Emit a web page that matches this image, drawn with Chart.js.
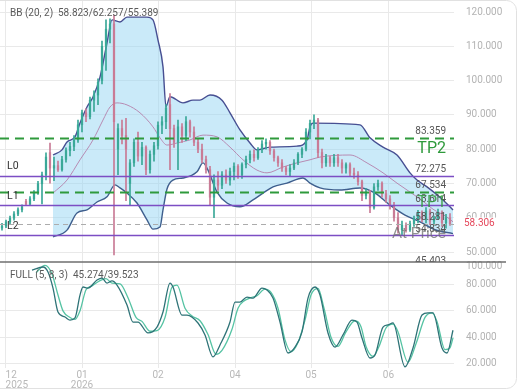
<!DOCTYPE html>
<html>
<head>
<meta charset="utf-8">
<script src="https://cdn.jsdelivr.net/npm/chart.js@4.4.1/dist/chart.umd.min.js"></script>
<style>
  html, body { margin: 0; padding: 0; background: #fff; }
</style>
</head>
<body>
<canvas id="chart" width="520" height="390"></canvas>
<script>
// candles, one per bar (bar i sits at x = i + 0.5)
const opens = [57.0, 57.6, 58.8, 59.9, 61.1, 62.3, 64.8, 64.0, 65.5, 67.2,
  69.9, 72.5, 79.0, 74.5, 75.2, 74.0, 77.0, 79.6, 80.8, 82.7,
  87.1, 90.6, 89.5, 94.3, 95.8, 100.0, 110.0, 115.0, 116.5, 80.0,
  86.0, 84.0, 70.0, 76.0, 82.0, 78.0, 80.5, 74.0, 78.5, 81.0,
  87.0, 88.0, 93.0, 86.0, 82.0, 86.5, 84.0, 88.0, 85.0, 82.0,
  80.0, 77.0, 74.0, 66.0, 71.0, 69.5, 72.5, 71.0, 73.5, 75.0,
  72.5, 75.5, 77.0, 78.5, 77.5, 79.8, 81.5, 82.0, 79.5, 77.5,
  76.0, 74.5, 73.5, 74.5, 76.0, 78.5, 80.0, 85.0, 87.5, 88.5,
  79.0, 76.0, 77.5, 76.0, 77.5, 76.0, 74.5, 75.5, 73.0, 72.5,
  70.5, 66.5, 67.5, 63.0, 69.0, 70.0, 67.0, 65.5, 63.5, 60.0,
  56.5, 57.8, 56.5, 58.2, 59.8, 61.5, 59.5, 62.0, 59.0, 60.0,
  61.5, 58.5, 60.0];
const highs = [58.4, 59.3, 60.5, 61.8, 62.9, 63.8, 65.4, 66.2, 67.9, 70.6,
  73.3, 78.9, 81.8, 77.7, 76.5, 77.9, 80.4, 82.0, 84.0, 88.5,
  91.4, 91.8, 95.2, 97.0, 100.5, 111.5, 117.7, 118.0, 119.1, 87.4,
  88.5, 89.0, 77.0, 83.0, 85.0, 82.0, 81.0, 79.5, 82.0, 88.0,
  89.5, 93.0, 96.2, 87.0, 88.5, 87.5, 89.5, 88.5, 86.5, 83.0,
  81.5, 78.0, 75.0, 72.5, 73.5, 73.5, 74.0, 74.5, 76.0, 75.5,
  76.0, 78.0, 79.5, 79.8, 80.5, 82.5, 83.0, 82.5, 80.0, 78.0,
  77.0, 75.0, 75.5, 77.0, 79.0, 80.5, 86.0, 88.5, 90.0, 89.0,
  80.0, 78.5, 78.0, 78.5, 78.5, 77.0, 76.0, 76.0, 74.5, 73.5,
  71.0, 68.5, 68.0, 70.0, 71.0, 70.5, 68.0, 66.5, 64.5, 61.5,
  59.0, 58.5, 59.0, 60.5, 62.2, 62.0, 63.0, 62.5, 60.5, 62.5,
  62.0, 61.0, 61.2];
const lows = [56.4, 57.1, 58.2, 59.3, 60.6, 61.7, 63.6, 63.6, 65.0, 66.8,
  64.0, 71.0, 70.1, 70.8, 73.5, 73.6, 76.2, 78.0, 79.6, 82.0,
  85.0, 88.0, 88.8, 91.0, 93.0, 99.0, 103.0, 111.0, 49.2, 72.6,
  81.5, 65.0, 63.8, 75.0, 76.5, 75.5, 72.6, 73.0, 76.5, 80.0,
  84.5, 86.0, 74.0, 80.5, 74.0, 82.0, 82.5, 83.5, 81.0, 79.0,
  76.0, 73.0, 63.8, 60.0, 68.0, 68.5, 70.0, 69.5, 71.0, 71.5,
  71.5, 74.5, 76.0, 76.5, 77.0, 79.0, 80.0, 78.5, 76.5, 75.0,
  73.5, 72.5, 72.0, 74.0, 75.5, 77.5, 79.5, 83.0, 86.0, 77.5,
  74.5, 75.0, 75.0, 75.0, 75.0, 73.0, 73.0, 72.0, 71.5, 69.5,
  65.0, 65.5, 61.5, 62.5, 68.0, 66.0, 64.5, 62.5, 59.0, 55.5,
  55.0, 55.8, 56.0, 57.5, 58.5, 58.8, 58.5, 58.0, 57.8, 59.5,
  57.5, 57.0, 57.8];
const closes = [57.6, 58.8, 59.9, 61.1, 62.3, 63.2, 64.0, 65.5, 67.2, 69.9,
  72.5, 77.7, 74.5, 75.2, 74.0, 77.0, 79.6, 80.8, 82.7, 87.1,
  90.6, 89.5, 94.3, 95.8, 99.5, 110.0, 115.0, 116.5, 88.0, 86.0,
  84.0, 80.0, 76.0, 82.0, 78.0, 80.5, 74.0, 78.5, 81.0, 87.0,
  88.0, 92.0, 86.0, 82.0, 86.5, 84.0, 88.0, 85.0, 82.0, 80.0,
  77.0, 74.0, 66.0, 71.0, 69.5, 72.5, 71.0, 73.5, 75.0, 72.5,
  75.5, 77.0, 78.5, 77.5, 79.8, 81.5, 82.0, 79.5, 77.5, 76.0,
  74.5, 73.5, 74.5, 76.0, 78.5, 80.0, 85.0, 87.5, 88.5, 79.0,
  76.0, 77.5, 76.0, 77.5, 76.0, 74.5, 75.5, 73.0, 72.5, 70.5,
  66.5, 67.5, 63.0, 69.0, 70.0, 67.0, 65.5, 63.5, 60.0, 56.5,
  57.8, 56.5, 58.2, 59.8, 61.5, 59.5, 62.0, 59.0, 60.0, 61.5,
  58.5, 60.0, 58.3];

// Bollinger band (20, 2) at bar positions
const bbUpperX = [13.25, 15.5, 16.75, 18.75, 20, 21.75, 23.25, 25, 26.75, 28,
  30, 31.75, 36.75, 38.25, 39.5, 40.75, 41.5, 42.5, 45.75, 48.25,
  50, 52.5, 55.5, 57.5, 60, 62.5, 64.25, 67.5, 74.25, 76.75,
  77.5, 78.25, 90, 92.5, 95.75, 99.25, 102.5, 104.25, 106.75, 110.75, 113.25];
const bbUpper = [78.3, 79.8, 82.1, 83.6, 87.6, 92.3, 95.2, 101.0, 111.0, 117.7,
  117.1, 118.5, 118.5, 117.7, 111.8, 104.0, 92.4, 95.3, 93.5, 94.3,
  94.3, 95.8, 94.3, 90.6, 85.6, 81.8, 79.8, 80.6, 80.9, 82.7,
  86.5, 87.6, 87.1, 83.3, 80.6, 78.3, 73.1, 71.0, 69.0, 65.2, 62.26];
const bbMiddleX = [13.25, 16.75, 20, 23.25, 25.75, 27.5, 29.25, 31.75, 35, 38.25,
  40, 41.75, 44.25, 47.5, 50.75, 54.25, 57.5, 60.75, 64.25, 66.75,
  70.75, 74.25, 77.5, 80, 87.5, 91.75, 95.75, 99.25, 102.5, 105.75,
  108.25, 111.75, 113.25];
const bbMiddle = [67.2, 71.0, 76.9, 82.7, 88.5, 92.3, 93.5, 92.9, 90.6, 86.5,
  83.3, 81.2, 81.8, 82.7, 84.1, 83.6, 80.6, 76.9, 73.9, 73.1,
  74.8, 76.0, 76.9, 77.7, 78.3, 76.0, 73.1, 70.1, 67.5, 64.8,
  62.5, 60.2, 58.82];
const bbLowerX = [13.25, 16.75, 19.25, 21.75, 24.25, 26.75, 28.75, 30, 31.75, 34.25,
  36.75, 38.25, 40, 40.75, 41.75, 43.25, 45.75, 49.25, 50.75, 52,
  54.25, 56.75, 60, 63.25, 65.75, 68.25, 71.75, 75.75, 77.5, 80,
  85, 90, 93.75, 97.5, 101.25, 105, 108.75, 113.25];
const bbLower = [54.4, 56.4, 61.4, 62.3, 64.6, 66.1, 69.6, 68.7, 67.2, 64.3,
  59.4, 56.7, 57.3, 62.3, 68.4, 71.0, 71.6, 73.4, 76.0, 73.9,
  67.5, 64.3, 63.2, 65.2, 67.2, 69.0, 70.1, 71.6, 70.1, 68.7,
  68.1, 68.7, 67.2, 63.7, 60.8, 58.8, 56.5, 55.39];

// stochastic FULL (5, 8, 3)
const stochKX = [8, 10.75, 12, 13.25, 14.5, 16.25, 17.5, 18.75, 20, 20.75,
  22, 24.25, 25.5, 26.75, 28, 29.25, 31.75, 33.25, 34.5, 37,
  39.25, 40.75, 42.5, 43.25, 45.5, 46.75, 49.5, 51.25, 53.25, 55,
  57.5, 58.75, 60, 61.75, 63.25, 65.5, 66.75, 68.25, 70, 72,
  73.75, 75.5, 77, 78.75, 80, 82, 83.75, 85.75, 88, 89.25,
  90.5, 92.5, 93.75, 95.75, 97, 98.25, 101.25, 103.25, 105.5, 107,
  108.25, 110.5, 111.75, 113.25];
const stochK = [91.0, 93.3, 89.5, 77.3, 59.1, 55.3, 53.0, 54.6, 72.0, 78.1,
  77.3, 83.4, 84.9, 81.1, 82.7, 79.6, 64.4, 51.5, 51.5, 43.2,
  47.7, 59.1, 81.1, 78.1, 56.8, 56.8, 50.8, 41.7, 25.0, 34.1,
  51.5, 66.7, 66.7, 70.5, 69.7, 77.3, 75.8, 69.7, 51.5, 28.0,
  32.5, 44.0, 69.7, 78.1, 72.0, 43.2, 32.5, 41.7, 53.0, 51.5,
  39.4, 24.2, 26.5, 47.7, 49.3, 50.8, 17.4, 31.8, 56.8, 58.4,
  58.4, 31.8, 28.0, 45.27];
const stochDX = [9, 11.25, 13, 14.5, 15.75, 17.5, 18.75, 20, 21.5, 23,
  25, 26.5, 28, 30, 32, 34, 35.5, 37.5, 39.25, 41.25,
  43, 44.25, 46.25, 48, 50, 52, 54, 55.5, 58, 59.5,
  61, 62.75, 64.25, 66.25, 67.75, 69.5, 71.25, 72.75, 74.5, 76.25,
  77.75, 79.5, 81, 82.75, 84.5, 86.5, 88.75, 90.25, 91.5, 93.25,
  94.75, 96.5, 98.25, 99.5, 102, 104, 106.25, 108, 109.25, 111.25,
  112.5, 113.25];
const stochD = [89.0, 94.5, 88.0, 72.0, 60.0, 55.0, 53.5, 60.0, 76.0, 79.0,
  83.0, 84.5, 81.0, 80.5, 70.0, 55.0, 52.0, 44.5, 45.0, 55.0,
  78.0, 79.5, 62.0, 56.0, 52.5, 42.0, 27.0, 30.0, 46.0, 62.0,
  67.5, 70.0, 71.5, 76.5, 74.0, 62.0, 38.0, 29.0, 36.0, 53.0,
  72.0, 77.0, 62.0, 40.0, 33.0, 44.0, 52.5, 48.0, 33.0, 25.5,
  33.0, 47.0, 50.0, 44.0, 21.0, 35.0, 55.0, 58.5, 52.0, 30.5,
  32.0, 39.52];

// drawn levels
const tpLevels = [83.359, 67.534];
const tpNames = ['TP2', 'TP1'];
const lLevels = [72.275, 63.614, 54.834];
const lNames = ['L0', 'L1', 'L2'];
const atPriceLevel = 58.281;
const belowLevel = 45.403;
const lastPrice = 58.306;

const bbLegend = ['BB (20, 2)', '58.823/62.257/55.389'];
const stochLegend = ['FULL (5, 8, 3)', '45.274/39.523'];
const stochTopLabel = '100.000';

// x axis
const xTickPos = [1.4, 20.5, 39.5, 58.75, 77.75, 97.1, 113.5];
const xTickLabels = [['12', '2025'], ['01', '2026'], '02', '04', '05', '06', ''];

const upColor = '#3aa898';
const downColor = '#c97b96';
const candleColors = closes.map((c, i) => c >= opens[i] ? upColor : downColor);
const toPoints = (xs, ys) => xs.map((x, i) => ({ x: x, y: ys[i] }));

const gridColor = '#e9e9e9';
const tickColor = '#b3b3b3';
Chart.defaults.font.family = 'Roboto';

const overlay = {
  id: 'overlay',
  afterDatasetsDraw(chart) {
    const { ctx, chartArea: a, scales: { y } } = chart;
    ctx.save();
    ctx.beginPath();
    ctx.rect(a.left, y.top, a.right - a.left, y.bottom - y.top);
    ctx.clip();

    const hline = (v, color, width, dash) => {
      const py = Math.round(y.getPixelForValue(v)) + 0.5;
      ctx.beginPath();
      ctx.setLineDash(dash);
      ctx.strokeStyle = color;
      ctx.lineWidth = width;
      ctx.moveTo(a.left, py);
      ctx.lineTo(a.right, py);
      ctx.stroke();
    };
    hline(atPriceLevel, '#acacac', 1, [5, 4]);
    lLevels.forEach(v => hline(v, '#7c4ec4', 1.6, []));
    tpLevels.forEach(v => hline(v, '#2f9a3c', 2, [9, 6]));
    ctx.setLineDash([]);

    ctx.font = '10px Roboto';
    ctx.fillStyle = '#555';
    ctx.textAlign = 'right';
    ctx.textBaseline = 'bottom';
    [...tpLevels, ...lLevels, atPriceLevel, belowLevel].forEach(v => {
      ctx.fillText(v.toFixed(3), a.right - 8, y.getPixelForValue(v) - 1);
    });

    ctx.font = '16px Roboto';
    ctx.textBaseline = 'top';
    tpLevels.forEach((v, i) => {
      ctx.fillStyle = i ? 'rgba(47,154,60,0.85)' : '#2f9a3c';
      ctx.fillText(tpNames[i], a.right - 8, y.getPixelForValue(v) + 3);
    });
    ctx.font = '15.5px Roboto';
    ctx.fillStyle = 'rgba(110,110,110,0.75)';
    ctx.fillText('At Price', a.right - 8, y.getPixelForValue(atPriceLevel) + 3);

    ctx.font = '10.5px Roboto';
    ctx.fillStyle = '#333';
    ctx.textAlign = 'left';
    ctx.textBaseline = 'bottom';
    lLevels.forEach((v, i) => ctx.fillText(lNames[i], a.left + 7, y.getPixelForValue(v) - 4));
    ctx.restore();
  },
  afterDraw(chart) {
    const { ctx, chartArea: a, scales: { y, y2 } } = chart;
    ctx.save();
    ctx.font = '10px Roboto';
    ctx.textAlign = 'left';
    ctx.textBaseline = 'middle';
    ctx.fillStyle = tickColor;
    ctx.fillText(stochTopLabel, a.right + 12, y.bottom + 4);

    ctx.strokeStyle = '#6e6e6e';
    ctx.lineWidth = 1.5;
    ctx.beginPath();
    ctx.moveTo(0, y.bottom);
    ctx.lineTo(506, y.bottom);
    ctx.stroke();

    const py = y.getPixelForValue(lastPrice);
    ctx.fillStyle = '#fff';
    ctx.fillRect(a.right + 4, py - 6, 50, 12);
    ctx.fillStyle = '#e5485c';
    ctx.fillText(lastPrice.toFixed(3), a.right + 10, py);

    ctx.fillStyle = '#5a5a5a';
    ctx.fillText(bbLegend[0], 10, y.top + 13);
    ctx.fillText(bbLegend[1], 58, y.top + 13);
    ctx.fillText(stochLegend[0], 10, y2.top + 13);
    ctx.fillText(stochLegend[1], 73, y2.top + 13);

    ctx.strokeStyle = '#e1e1e1';
    ctx.lineWidth = 1;
    ctx.beginPath();
    ctx.roundRect(-20.5, 0.5, 537, 388, 10);
    ctx.stroke();
    ctx.restore();
  }
};

const yAxisFit = s => { s.width = 52; s.paddingTop = 0; s.paddingBottom = 0; };

new Chart(document.getElementById('chart'), {
  type: 'line',
  data: {
    datasets: [
      {
        type: 'bar',
        data: closes.map((c, i) => ({ x: i + 0.5, y: [lows[i], highs[i]] })),
        backgroundColor: candleColors,
        barThickness: 1,
        grouped: false,
        order: 2,
        yAxisID: 'y'
      },
      {
        type: 'bar',
        data: closes.map((c, i) => ({ x: i + 0.5, y: [opens[i], c] })),
        backgroundColor: candleColors,
        barThickness: 1.6,
        minBarLength: 1,
        grouped: false,
        order: 1,
        yAxisID: 'y'
      },
      {
        data: toPoints(bbUpperX, bbUpper),
        borderColor: '#474f92',
        borderWidth: 1.4,
        backgroundColor: 'rgba(150, 214, 244, 0.5)',
        fill: '+2',
        pointRadius: 0,
        cubicInterpolationMode: 'monotone',
        order: 5,
        yAxisID: 'y'
      },
      {
        data: toPoints(bbMiddleX, bbMiddle),
        borderColor: '#b68ab2',
        borderWidth: 1,
        fill: false,
        pointRadius: 0,
        cubicInterpolationMode: 'monotone',
        order: 4,
        yAxisID: 'y'
      },
      {
        data: toPoints(bbLowerX, bbLower),
        borderColor: '#3f5f8e',
        borderWidth: 1.4,
        fill: false,
        pointRadius: 0,
        cubicInterpolationMode: 'monotone',
        order: 3,
        yAxisID: 'y'
      },
      {
        data: toPoints(stochDX, stochD),
        borderColor: '#55c3a3',
        borderWidth: 1.3,
        fill: false,
        pointRadius: 0,
        cubicInterpolationMode: 'monotone',
        order: 7,
        yAxisID: 'y2'
      },
      {
        data: toPoints(stochKX, stochK),
        borderColor: '#2e7377',
        borderWidth: 1.3,
        fill: false,
        pointRadius: 0,
        cubicInterpolationMode: 'monotone',
        order: 6,
        yAxisID: 'y2'
      }
    ]
  },
  options: {
    responsive: false,
    animation: false,
    devicePixelRatio: 1,
    events: [],
    layout: { padding: { left: 0, right: 14, top: 0, bottom: 0 } },
    plugins: {
      legend: { display: false },
      tooltip: { enabled: false }
    },
    scales: {
      x: {
        type: 'linear',
        min: 0,
        max: 113.5,
        offset: false,
        border: { display: false },
        grid: {
          offset: false,
          drawTicks: false,
          color: c => c.index === xTickPos.length - 1 ? 'rgba(0,0,0,0)' : gridColor
        },
        ticks: {
          autoSkip: false,
          maxRotation: 0,
          align: 'inner',
          padding: 2,
          color: '#b8b8b8',
          font: { size: 10, lineHeight: 1.05 },
          callback: (v, i) => xTickLabels[i]
        },
        afterBuildTicks: s => { s.ticks = xTickPos.map(v => ({ value: v })); },
        afterFit: s => { s.height = 22; s.paddingLeft = 0; s.paddingRight = 0; }
      },
      y: {
        type: 'linear',
        position: 'right',
        stack: 'panes',
        stackWeight: 262,
        min: 47.1,
        max: 123.5,
        border: { display: false },
        grid: { color: gridColor, drawTicks: false },
        ticks: {
          stepSize: 10,
          includeBounds: false,
          padding: 12,
          color: tickColor,
          font: { size: 10 },
          callback: v => v.toFixed(3)
        },
        afterFit: yAxisFit
      },
      y2: {
        type: 'linear',
        position: 'right',
        stack: 'panes',
        stackWeight: 106,
        min: 16.6,
        max: 97.1,
        border: { display: false },
        grid: { color: gridColor, drawTicks: false },
        ticks: {
          stepSize: 20,
          includeBounds: false,
          padding: 12,
          color: tickColor,
          font: { size: 10 },
          callback: v => v.toFixed(3)
        },
        afterFit: yAxisFit
      }
    }
  },
  plugins: [overlay]
});
</script>
</body>
</html>
